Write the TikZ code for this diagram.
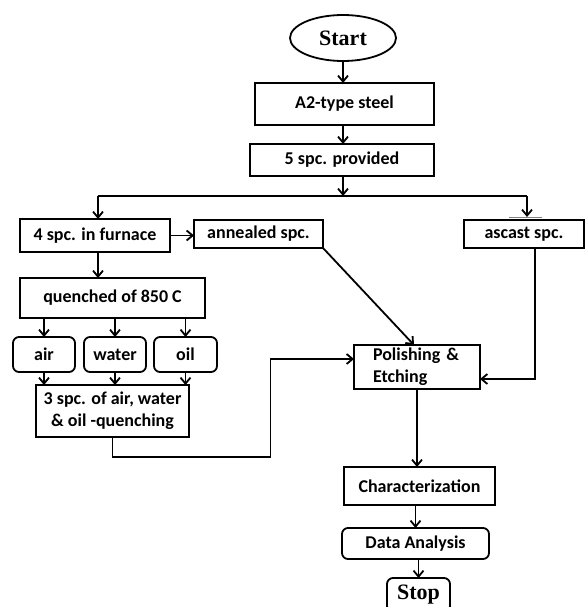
\documentclass[tikz,border=0pt]{standalone}
\usepackage{fontspec}
\setmainfont{Carlito}
\newfontfamily\headfont{Liberation Serif}
\usetikzlibrary{arrows.meta,shapes.geometric,calc}
\begin{document}
\begin{tikzpicture}[x=1pt,y=-1pt,line width=1.8pt,
  box/.style={draw,rectangle,inner sep=0pt,outer sep=0pt,font=\fontsize{18}{22}\selectfont\bfseries},
  rbox/.style={box,rounded corners=6pt},
  term/.style={draw,inner sep=0pt,outer sep=0pt,font=\headfont\fontsize{22}{24}\selectfont\bfseries},
  arr/.style={-{Straight Barb[length=6pt,width=10pt,line width=1.8pt]}}]
\useasboundingbox (0,0) rectangle (588,607);
\node[term,ellipse,minimum width=106pt,minimum height=46pt] (start) at (343,38) {Start};
\node[box,minimum width=179pt,minimum height=42pt] (a2) at (344.5,104) {A2-type steel};
\node[box,minimum width=184pt,minimum height=32pt] (five) at (342,160) {5 spc. provided};
\node[box,minimum width=150pt,minimum height=33pt] (furnace) at (95,235.5) {4 spc. in furnace};
\node[box,minimum width=129pt,minimum height=28pt] (annealed) at (258.5,234) {annealed spc.};
\node[box,minimum width=120pt,minimum height=28pt] (ascast) at (524,234) {ascast spc.};
\node[box,minimum width=185pt,minimum height=40pt] (quenched) at (112.5,298) {quenched of 850 C};
\node[rbox,minimum width=62pt,minimum height=35pt] (air) at (44,354.5) {air};
\node[rbox,minimum width=62pt,minimum height=35pt] (water) at (115,354.5) {water};
\node[rbox,minimum width=63pt,minimum height=35pt] (oil) at (185.5,354.5) {oil};
\node[box,minimum width=153pt,minimum height=52pt,align=center] (three) at (112.5,411) {3 spc. of air, water\\\& oil -quenching};
\node[box,minimum width=126pt,minimum height=44pt,align=left,text width=88pt] (polish) at (417,367) {Polishing \&\\Etching};
\node[box,minimum width=151pt,minimum height=38pt] (charact) at (419.5,486) {Characterization};
\node[rbox,minimum width=147pt,minimum height=31pt] (data) at (415.5,543.5) {Data Analysis};
\node[term,rectangle,rounded corners=6pt,minimum width=63pt,minimum height=34pt] (stop) at (418.5,595) {Stop};
% connectors
\coordinate (j) at (343,196);
\coordinate (jl) at (98,196);
\coordinate (jr) at (527,196);
\draw[arr] (start.south) -- (start.south |- a2.north);
\draw[arr] (a2.south -| start.south) -- (five.north -| start.south);
\draw[arr] (five.south -| j) -- (j);
\draw (jl) -- (jr);
\draw[arr] (jl) -- (jl |- furnace.north);
\draw[arr] (jr) -- ($(jr |- ascast.north)+(0,-3)$);
\draw[line width=0.8pt,gray] (509,217) -- (542,217);
\draw[arr] (furnace.east) -- (furnace.east -| annealed.west);
\draw[arr] (furnace.south -| jl) -- (quenched.north -| jl);
\draw[arr] (quenched.south -| air.north) -- (air.north);
\draw[arr] (quenched.south -| water.north) -- (water.north);
\draw[arr] (quenched.south -| oil.north) -- (oil.north);
\draw[arr] (air.south) -- (air.south |- three.north);
\draw[arr] (water.south) -- (water.south |- three.north);
\draw[arr] (oil.south) -- (oil.south |- three.north);
\draw[arr] (three.south) -- ++(0,20) -- ++(158,0) |- ([yshift=8pt]polish.west);
\draw[arr] (annealed.south east) -- ([xshift=-3pt]polish.north);
\draw[arr] ([xshift=11pt]ascast.south) |- ([yshift=-12pt]polish.east);
\draw[arr] (polish.south) -- (polish.south |- charact.north);
\draw[arr] (charact.south -| data.north) -- (data.north);
\draw[arr] (data.south -| stop.north) -- (stop.north);
\end{tikzpicture}
\end{document}
